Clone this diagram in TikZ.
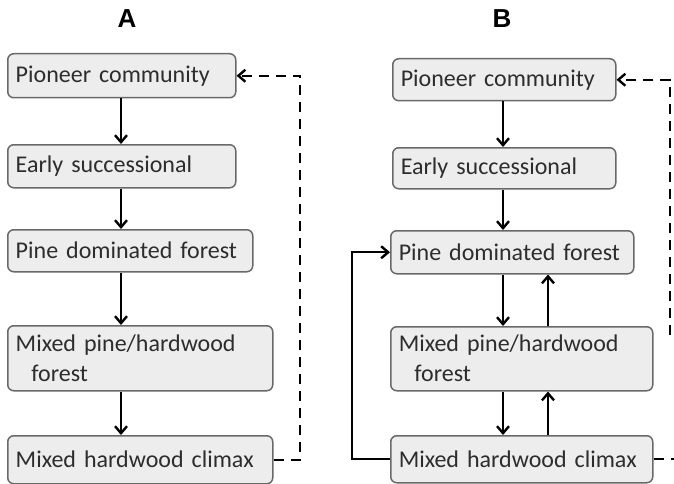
\documentclass[tikz,border=0pt]{standalone}
\usepackage{fontspec}
\usetikzlibrary{positioning,arrows.meta}
\newfontfamily\boxfont{Carlito}
\newfontfamily\ttlfont{Liberation Sans}
\definecolor{boxfill}{RGB}{237,237,237}
\definecolor{boxline}{RGB}{105,105,105}
\definecolor{txtgray}{RGB}{45,45,45}
\tikzset{
  sbox/.style={draw=boxline,fill=boxfill,rounded corners=6pt,line width=1.5pt,anchor=north west,
    inner xsep=8pt,inner ysep=0pt,align=left,text=txtgray,font=\boxfont\fontsize{24}{30}\selectfont,
    execute at begin node={\hyphenpenalty=10000}},
  flow/.style={line width=2.4pt,-{Straight Barb[length=7pt,width=12pt]}},
  fback/.style={flow,dash pattern=on 10pt off 7pt},
  ttl/.style={font=\ttlfont\bfseries\fontsize{26}{30}\selectfont}
}
\begin{document}
\begin{tikzpicture}[x=1pt,y=-1pt]
  \useasboundingbox (0,0) rectangle (674,484);
  % panel A
  \node[ttl] (ttlA) at (127,19) {A};
  \node[sbox,text width=212pt,minimum height=44pt] (a1) at (7,53) {Pioneer community};
  \node[sbox,text width=212pt,minimum height=43pt] (a2) at (7,144) {Early successional};
  \node[sbox,text width=229pt,minimum height=42pt] (a3) at (7,229) {Pine dominated forest};
  \node[sbox,text width=249pt,minimum height=65pt] (a4) at (7,325) {Mixed pine/hardwood\\\hspace*{0.65em}forest};
  \node[sbox,text width=249pt,minimum height=48pt] (a5) at (7,435) {Mixed hardwood climax};
  \coordinate (acol) at (121,0);
  \coordinate (aback) at (300,0);
  \draw[flow] (a1.south -| acol) -- (a2.north -| acol);
  \draw[flow] (a2.south -| acol) -- (a3.north -| acol);
  \draw[flow] (a3.south -| acol) -- (a4.north -| acol);
  \draw[flow] (a4.south -| acol) -- (a5.north -| acol);
  \draw[fback] (a5.east) -- (a5.east -| aback) -- (a1.east -| aback) -- (a1.east);
  % panel B
  \node[ttl] (ttlB) at (502,19) {B};
  \node[sbox,text width=207pt,minimum height=42pt] (b1) at (392,58) {Pioneer community};
  \node[sbox,text width=207pt,minimum height=41pt] (b2) at (392,147) {Early successional};
  \node[sbox,text width=227pt,minimum height=43pt] (b3) at (390,230) {Pine dominated forest};
  \node[sbox,text width=246pt,minimum height=64pt] (b4) at (390,326) {Mixed pine/hardwood\\\hspace*{0.65em}forest};
  \node[sbox,text width=246pt,minimum height=47pt] (b5) at (390,435) {Mixed hardwood climax};
  \coordinate (bdown) at (503,0);
  \coordinate (bup) at (548,0);
  \coordinate (bleft) at (352,0);
  \coordinate (bback) at (670,0);
  \coordinate (bend) at (670,335);
  \coordinate (bedge) at (676,0);
  \draw[flow] (b1.south -| bdown) -- (b2.north -| bdown);
  \draw[flow] (b2.south -| bdown) -- (b3.north -| bdown);
  \draw[flow] (b3.south -| bdown) -- (b4.north -| bdown);
  \draw[flow] (b4.south -| bdown) -- (b5.north -| bdown);
  \draw[flow] (b4.north -| bup) -- (b3.south -| bup);
  \draw[flow] (b5.north -| bup) -- (b4.south -| bup);
  \draw[flow] (b5.west) -- (b5.west -| bleft) -- (b3.west -| bleft) -- (b3.west);
  \draw[fback] (bend) -- (b1.east -| bback) -- (b1.east);
  \draw[fback,-] (b5.east) -- (b5.east -| bedge);
\end{tikzpicture}
\end{document}
